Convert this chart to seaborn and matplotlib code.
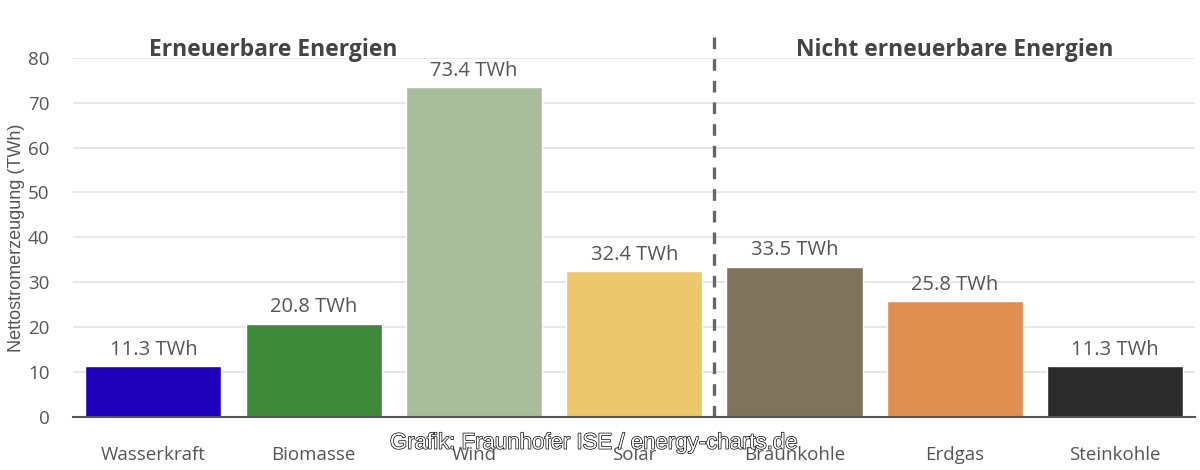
import matplotlib
matplotlib.use("Agg")
import matplotlib.pyplot as plt
import matplotlib.patheffects as pe
import seaborn as sns
import pandas as pd

# Daten
quellen = ["Wasserkraft", "Biomasse", "Wind", "Solar", "Braunkohle", "Erdgas", "Steinkohle"]
werte = [11.3, 20.8, 73.4, 32.4, 33.5, 25.8, 11.3]
farben = ["#1f00bb", "#3e8a3a", "#a8bd9a", "#edc76b", "#80735c", "#e08f50", "#2b2b2b"]
gruppen = ["Erneuerbare Energien", "Nicht erneuerbare Energien"]

df = pd.DataFrame({"Quelle": quellen, "TWh": werte})

sns.set_style("white")
plt.rcParams["font.family"] = ["Open Sans", "DejaVu Sans"]

fig = plt.figure(figsize=(12, 4.7), dpi=100)
ax = fig.add_axes([0.061, 0.113, 0.935, 0.764])

sns.barplot(data=df, x="Quelle", y="TWh", hue="Quelle", palette=farben,
            legend=False, width=0.85, saturation=1, ax=ax)

ax.set_ylim(0, 80)
ax.set_xlim(-0.5, 6.5)
ax.set_yticks(range(0, 81, 10))
ax.yaxis.grid(True, color="#e3e3e3", linewidth=1.2)
ax.set_axisbelow(True)
for s in ["top", "right", "left"]:
    ax.spines[s].set_visible(False)
ax.spines["bottom"].set_color("#555555")
ax.spines["bottom"].set_linewidth(1.5)
ax.tick_params(axis="y", length=0, labelsize=13.5, labelcolor="#555555", pad=17)
ax.tick_params(axis="x", length=0, labelsize=13.5, labelcolor="#555555", pad=21)
ax.set_xlabel("")
ax.set_ylabel("Nettostromerzeugung (TWh)", fontsize=13, color="#555555",
              family=["Liberation Sans", "DejaVu Sans"], labelpad=2)

# Werte über den Balken
for i, v in enumerate(werte):
    ax.text(i, v + 1.4, f"{v:.1f} TWh", ha="center", va="bottom",
            fontsize=14.5, color="#555555")

# Trennlinie zwischen den Gruppen
ax.axvline(3.5, ymin=0, ymax=1.085, color="#666666", linestyle=(0, (3.5, 3)),
           linewidth=2.4, clip_on=False)

ax.text(0.75, 81.8, gruppen[0], ha="center", va="center",
        fontsize=16.5, fontweight="bold", color="#444444", clip_on=False)
ax.text(5.0, 81.8, gruppen[1], ha="center", va="center",
        fontsize=16.5, fontweight="bold", color="#444444", clip_on=False)

# Wasserzeichen
fig.text(0.495, 0.057, "Grafik: Fraunhofer ISE / energy-charts.de", ha="center",
         va="center", fontsize=16, color="white",
         family=["Liberation Sans Narrow", "DejaVu Sans Condensed", "Liberation Sans"],
         path_effects=[pe.withStroke(linewidth=1.0, foreground="black")])

fig.savefig("out.png", dpi=100)
